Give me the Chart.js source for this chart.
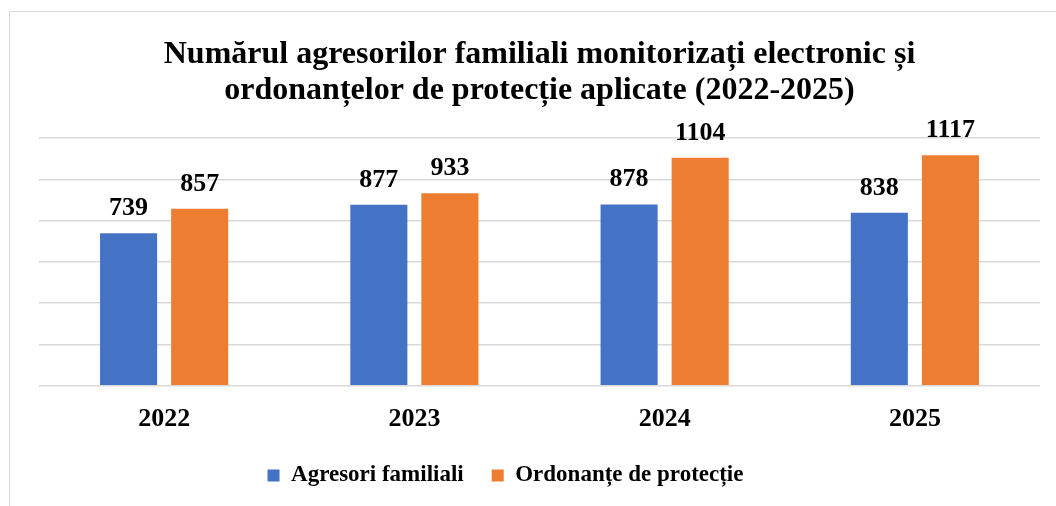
<!DOCTYPE html>
<html>
<head>
<meta charset="utf-8">
<script src="https://cdn.jsdelivr.net/npm/chart.js@4.4.1/dist/chart.umd.min.js"></script>
<style>
  html, body { margin: 0; padding: 0; background: #fff; }
  #wrap { position: relative; width: 1056px; height: 506px; overflow: hidden; }
  #frame { position: absolute; left: 9px; top: 11px; width: 1100px; height: 600px; border: 1px solid #d9d9d9; }
  #chart { position: absolute; left: 0; top: 0; }
</style>
</head>
<body>
<div id="wrap">
  <div id="frame"></div>
  <canvas id="chart" width="1056" height="506"></canvas>
</div>
<script>
// data
var years = ["2022", "2023", "2024", "2025"];
var agresori = [739, 877, 878, 838];
var ordonante = [857, 933, 1104, 1117];
var seriesNames = ["Agresori familiali", "Ordonanțe de protecție"];
var titleLines = ["Numărul agresorilor familiali monitorizați electronic și",
                  "ordonanțelor de protecție aplicate (2022-2025)"];

var serif = "'Liberation Serif', 'Times New Roman', serif";

// value labels above each bar
var valueLabels = {
  id: "valueLabels",
  afterDatasetsDraw: function(chart) {
    var ctx = chart.ctx;
    ctx.save();
    ctx.font = "bold 26px " + serif;
    ctx.fillStyle = "#000";
    ctx.textAlign = "center";
    ctx.textBaseline = "alphabetic";
    chart.data.datasets.forEach(function(ds, i) {
      chart.getDatasetMeta(i).data.forEach(function(bar, j) {
        ctx.fillText(String(ds.data[j]), bar.x, bar.y - 18);
      });
    });
    ctx.restore();
  }
};

// the legend in the original sits a little left of the plot centre and higher
var legendShift = {
  id: "legendShift",
  afterLayout: function(chart) {
    if (chart.legend) {
      chart.legend.left -= 34;
      chart.legend.right -= 34;
      chart.legend.top -= 9;
      chart.legend.bottom -= 9;
    }
  }
};

new Chart(document.getElementById("chart"), {
  type: "bar",
  data: {
    labels: years,
    datasets: [
      { label: seriesNames[0], data: agresori, backgroundColor: "#4472C4" },
      { label: seriesNames[1], data: ordonante, backgroundColor: "#ED7D31" }
    ]
  },
  options: {
    responsive: false,
    animation: false,
    categoryPercentage: 0.568,
    barPercentage: 0.803,
    layout: { padding: { left: 39, right: 16, top: 0, bottom: 0 } },
    plugins: {
      title: {
        display: true,
        text: titleLines,
        color: "#000",
        font: { family: serif, size: 32, weight: "bold", lineHeight: 1.125 },
        padding: { top: 37, bottom: 29 }
      },
      legend: {
        position: "bottom",
        labels: {
          color: "#000",
          font: { family: serif, size: 23, weight: "bold" },
          boxWidth: 12,
          boxHeight: 12,
          padding: 28
        }
      },
      tooltip: { enabled: false }
    },
    scales: {
      x: {
        grid: { display: false },
        border: { display: false },
        ticks: {
          color: "#000",
          padding: 10,
          font: { family: serif, size: 26, weight: "bold" }
        }
      },
      y: {
        min: 0,
        max: 1200,
        ticks: { display: false, stepSize: 200 },
        border: { display: false },
        grid: { color: "#d9d9d9", lineWidth: 1.5, drawTicks: false }
      }
    }
  },
  plugins: [valueLabels, legendShift]
});
</script>
</body>
</html>
